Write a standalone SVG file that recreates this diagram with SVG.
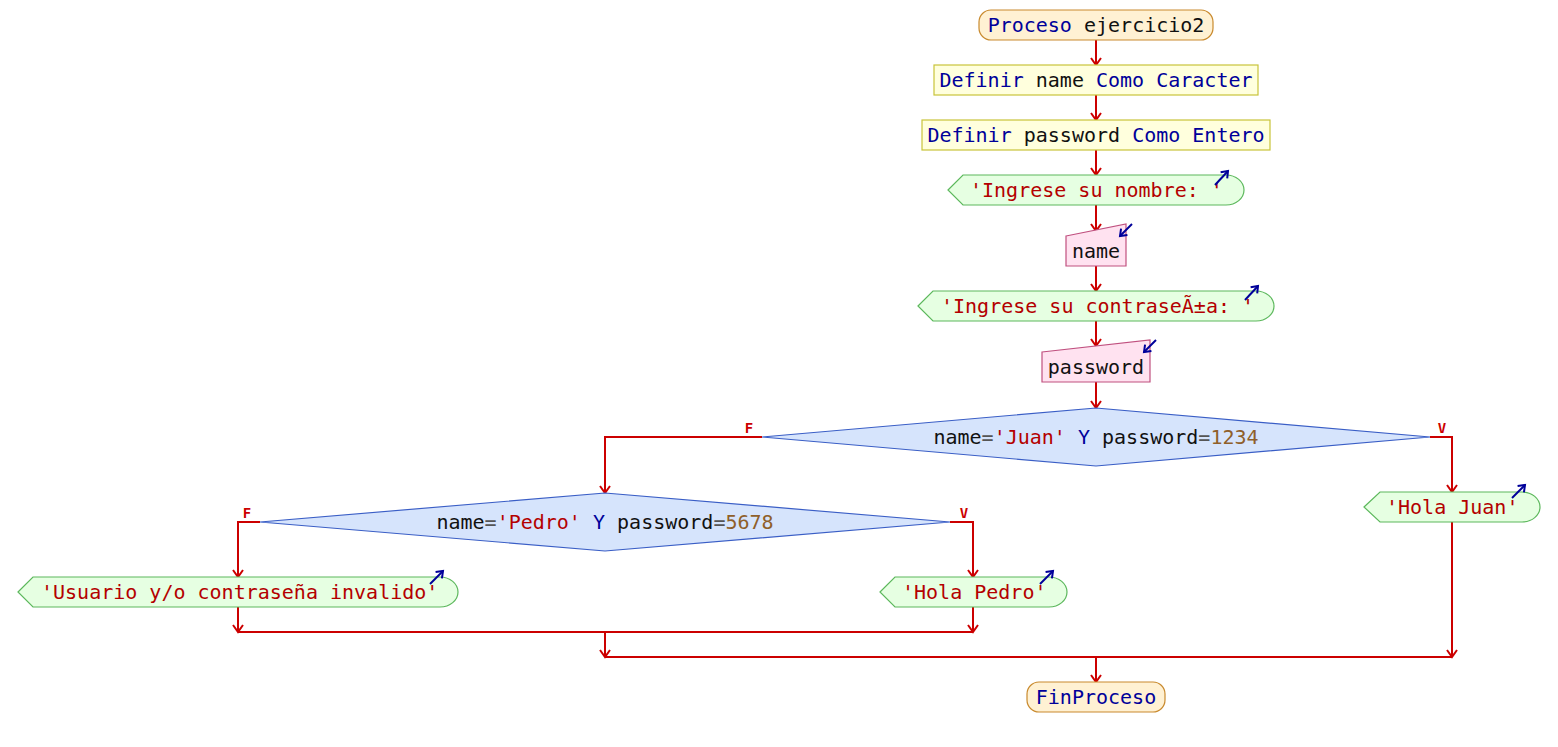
<svg xmlns="http://www.w3.org/2000/svg" width="1558" height="747" viewBox="0 0 1558 747">
<style>
text{font-family:"DejaVu Sans Mono","Liberation Mono",monospace;font-size:20px;white-space:pre}
.k{fill:#00009a}.i{fill:#111}.s{fill:#b40000}.n{fill:#8f5f2a}.o{fill:#555}
.lbl{font-size:14px;font-weight:bold;fill:#cc0000}
.term{fill:#fff1d3;stroke:#c98a2e;stroke-width:1.2}
.def{fill:#ffffdd;stroke:#c8c43a;stroke-width:1.2}
.out{fill:#e6ffe2;stroke:#5cb85c;stroke-width:1.2}
.inp{fill:#ffe2f0;stroke:#c0507f;stroke-width:1.2}
.dec{fill:#d6e4fc;stroke:#3a5ec6;stroke-width:1.2}
.ic{stroke:#00009a;stroke-width:2;fill:none;marker-end:url(#ba)}
#conn path{fill:none;stroke:#cc0000;stroke-width:2}
#conn .a{marker-end:url(#ra)}
</style>
<defs>
<marker id="ra" markerUnits="userSpaceOnUse" markerWidth="14" markerHeight="14" refX="0" refY="0" viewBox="-8 -7 10 14" orient="auto" overflow="visible">
<path d="M-7,-5 L0,0 L-7,5" fill="none" stroke="#cc0000" stroke-width="2"/>
</marker>
<marker id="ba" markerUnits="userSpaceOnUse" markerWidth="12" markerHeight="12" refX="0" refY="0" viewBox="-8 -6 10 12" orient="auto" overflow="visible">
<path d="M-6,-4.5 L0,0 L-6,4.5" fill="none" stroke="#00009a" stroke-width="2"/>
</marker>
</defs>
<rect width="1558" height="747" fill="#fff"/>
<g id="conn">
<path class="a" d="M1096,40 V65"/>
<path class="a" d="M1096,95 V120"/>
<path class="a" d="M1096,150 V175"/>
<path class="a" d="M1096,205 V231"/>
<path class="a" d="M1096,266 V291"/>
<path class="a" d="M1096,321 V346"/>
<path class="a" d="M1096,382 V408"/>
<path class="a" d="M762,437 H605 V493"/>
<path class="a" d="M1430,437 H1452 V492"/>
<path class="a" d="M260,522 H238 V577"/>
<path class="a" d="M950,522 H973 V577"/>
<path class="a" d="M238,607 V632"/>
<path class="a" d="M973,607 V632"/>
<path d="M238,632 H973"/>
<path class="a" d="M605,632 V657"/>
<path class="a" d="M1452,522 V657"/>
<path d="M605,657 H1452"/>
<path class="a" d="M1096,657 V682"/>
<text class="lbl" x="749" y="433" text-anchor="middle">F</text>
<text class="lbl" x="1442" y="433" text-anchor="middle">V</text>
<text class="lbl" x="247" y="518" text-anchor="middle">F</text>
<text class="lbl" x="964" y="518" text-anchor="middle">V</text>
</g>
<g id="start">
<rect class="term" x="979" y="10" width="234" height="30" rx="12"/>
<text x="1096" y="32" text-anchor="middle"><tspan class="k">Proceso</tspan><tspan class="i"> ejercicio2</tspan></text>
</g>
<g id="def1">
<rect class="def" x="934" y="65" width="324" height="30"/>
<text x="1096" y="87" text-anchor="middle"><tspan class="k">Definir</tspan><tspan class="i"> name </tspan><tspan class="k">Como Caracter</tspan></text>
</g>
<g id="def2">
<rect class="def" x="922" y="120" width="348" height="30"/>
<text x="1096" y="142" text-anchor="middle"><tspan class="k">Definir</tspan><tspan class="i"> password </tspan><tspan class="k">Como Entero</tspan></text>
</g>
<g id="out1">
<path class="out" d="M948,190 L963,175 H1226 A18,15 0 0 1 1226,205 H963 Z"/>
<text x="970" y="197"><tspan class="s">'Ingrese su nombre: '</tspan></text>
<path class="ic" d="M1215,185 L1228,171"/>
</g>
<g id="in1">
<path class="inp" d="M1066,236 L1126,224 V266 H1066 Z"/>
<text x="1096" y="258" text-anchor="middle" class="i">name</text>
<path class="ic" d="M1132,224 L1120,236"/>
</g>
<g id="out2">
<path class="out" d="M918,306 L933,291 H1256 A18,15 0 0 1 1256,321 H933 Z"/>
<text x="941" y="313"><tspan class="s">'Ingrese su contraseÃ±a: '</tspan></text>
<path class="ic" d="M1245,300 L1258,286"/>
</g>
<g id="in2">
<path class="inp" d="M1042,352 L1150,340 V382 H1042 Z"/>
<text x="1096" y="374" text-anchor="middle" class="i">password</text>
<path class="ic" d="M1156,340 L1144,352"/>
</g>
<g id="dec1">
<polygon class="dec" points="762,437 1096,408 1430,437 1096,466"/>
<text x="1096" y="444" text-anchor="middle"><tspan class="i">name</tspan><tspan class="o">=</tspan><tspan class="s">'Juan'</tspan><tspan class="k"> Y </tspan><tspan class="i">password</tspan><tspan class="o">=</tspan><tspan class="n">1234</tspan></text>
</g>
<g id="dec2">
<polygon class="dec" points="260,522 605,493 950,522 605,551"/>
<text x="605" y="529" text-anchor="middle"><tspan class="i">name</tspan><tspan class="o">=</tspan><tspan class="s">'Pedro'</tspan><tspan class="k"> Y </tspan><tspan class="i">password</tspan><tspan class="o">=</tspan><tspan class="n">5678</tspan></text>
</g>
<g id="outJuan">
<path class="out" d="M1364,507 L1380,492 H1522 A18,15 0 0 1 1522,522 H1380 Z"/>
<text x="1386" y="514"><tspan class="s">'Hola Juan'</tspan></text>
<path class="ic" d="M1512,498 L1525,485"/>
</g>
<g id="outInvalid">
<path class="out" d="M18,592 L33,577 H440 A18,15 0 0 1 440,607 H33 Z"/>
<text x="41" y="599"><tspan class="s">'Usuario y/o contraseña invalido'</tspan></text>
<path class="ic" d="M430,584 L443,571"/>
</g>
<g id="outPedro">
<path class="out" d="M880,592 L895,577 H1049 A18,15 0 0 1 1049,607 H895 Z"/>
<text x="902" y="599"><tspan class="s">'Hola Pedro'</tspan></text>
<path class="ic" d="M1040,584 L1053,571"/>
</g>
<g id="end">
<rect class="term" x="1027" y="682" width="138" height="30" rx="12"/>
<text x="1096" y="704" text-anchor="middle" class="k">FinProceso</text>
</g>
</svg>
